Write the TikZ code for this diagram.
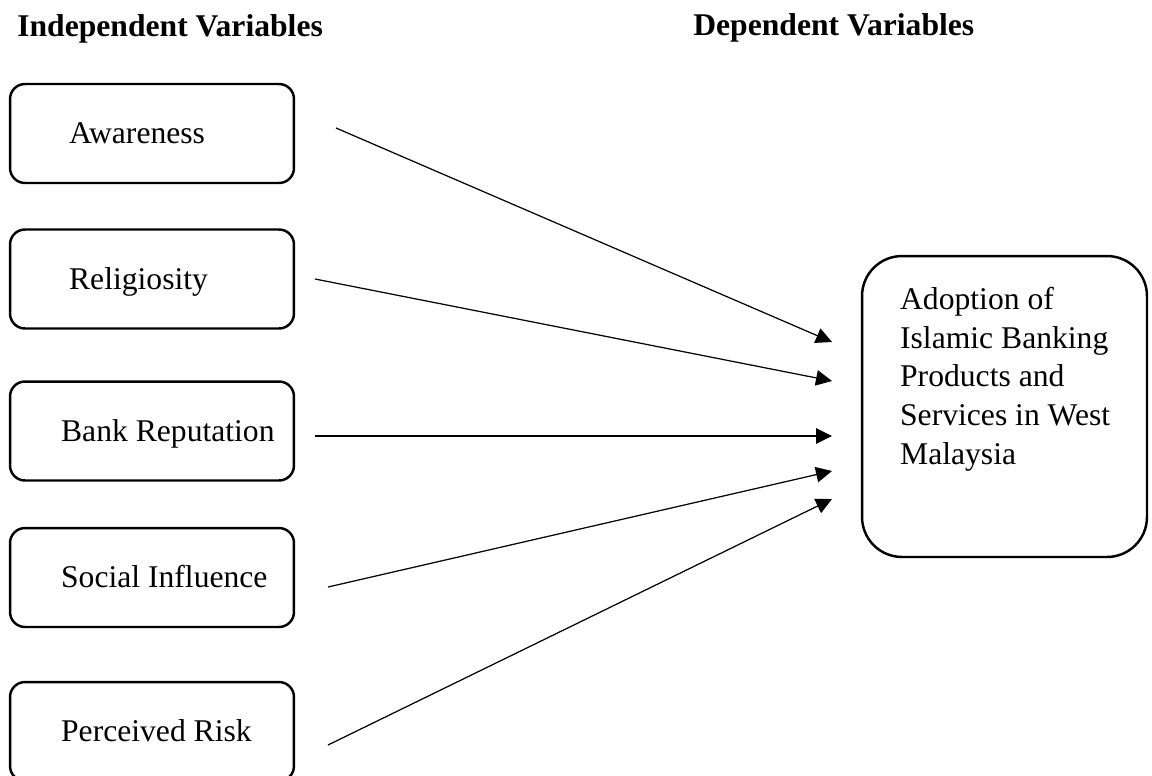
\documentclass[tikz,border=0pt]{standalone}
\usepackage{fontspec}
\setmainfont{Liberation Serif}
\usepackage{tikz}
\usetikzlibrary{
        arrows.meta,
        positioning,
        shapes
    }
\tikzset{>={Triangle[length=0.32cm,width=0.31cm]},auto}
\tikzset{var box/.style={draw,line width=1.4pt,rounded corners=0.3cm,minimum width=5.68cm,minimum height=1.98cm}}
\tikzset{var text/.style={anchor=west,inner sep=0pt,text height=11.6pt,text depth=0pt}}
\tikzset{head/.style={anchor=base west,inner sep=0pt,font=\fontsize{18}{22}\selectfont\bfseries}}

\begin{document}
\begin{tikzpicture}[x=0.02cm,y=-0.02cm,font=\fontsize{18}{22}\selectfont]
            \useasboundingbox (0,0) rectangle (1152,775);
            \node[head] (ind) at (17,36) {Independent Variables};
            \node[head] (dep) at (693,35) {Dependent Variables};
            % independent variables
            \node[var box] (aw) at (152,133.5) {};
            \node[var box] (rel) at (152,279) {};
            \node[var box] (rep) at (152,431) {};
            \node[var box] (soc) at (152,577.5) {};
            \node[var box] (risk) at (152,731.5) {};
            \node[var text,right=1.2cm of aw.west] (aw-t) {Awareness};
            \node[var text,right=1.2cm of rel.west] (rel-t) {Religiosity};
            \node[var text,right=1.04cm of rep.west] (rep-t) {Bank Reputation};
            \node[var text,right=1.04cm of soc.west] (soc-t) {Social Influence};
            \node[var text,right=1.04cm of risk.west] (risk-t) {Perceived Risk};
            % dependent variable
            \node[var box,rounded corners=0.8cm,minimum width=5.7cm,minimum height=6.02cm] (adopt) at (1004.5,406.5) {};
            \node[anchor=north west,inner sep=0pt,align=left,below right=0.64cm and 0.78cm of adopt.north west] (adopt-t)
                {Adoption of\\Islamic Banking\\Products and\\Services in West\\Malaysia};
            \coordinate (s1) at (336,128);
            \coordinate (s2) at (315,279);
            \coordinate (s3) at (315,436);
            \coordinate (s4) at (328,587);
            \coordinate (s5) at (328,745);
            \coordinate (e1) at (832,342);
            \coordinate (e2) at (832,381);
            \coordinate (e3) at (832,436);
            \coordinate (e4) at (832,471);
            \coordinate (e5) at (832,499);
            \path[->,line width=0.7pt]
                (s1) edge (e1)
                (s2) edge (e2)
                (s3) edge (e3)
                (s4) edge (e4)
                (s5) edge (e5)
            ;
        \end{tikzpicture}
\end{document}
